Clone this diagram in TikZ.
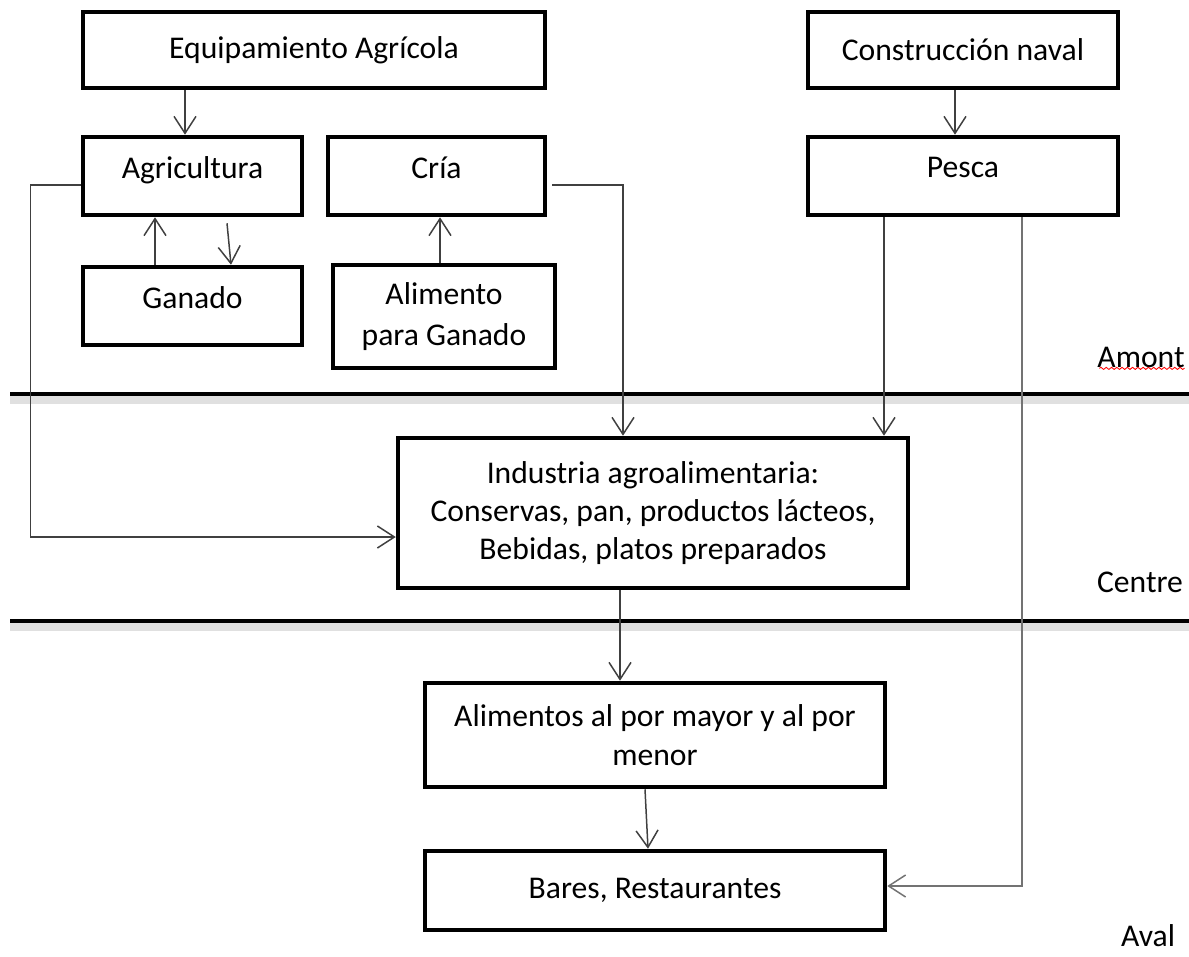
\documentclass[tikz,border=0pt]{standalone}
\usepackage{fontspec}
\setmainfont{Carlito}
\usepackage{tikz}
\usetikzlibrary{arrows.meta,positioning,calc,decorations.pathmorphing}
\tikzstyle{box}=[draw,line width=2.6pt,rectangle,align=center,inner sep=2pt,
  font=\fontsize{18}{22.5}\selectfont]
\tikzstyle{raised}=[text depth=10pt]
\tikzstyle{arr}=[draw=black!75,line width=0.85pt,-{Straight Barb[length=3.4mm,width=4.4mm,line width=0.85pt]}]
\tikzstyle{sep}=[line width=2.2pt]
\tikzstyle{tag}=[font=\fontsize{18}{20}\selectfont,inner sep=1pt]

\begin{document}
\begin{tikzpicture}[x=0.02cm,y=-0.02cm]
\useasboundingbox (0,0) rectangle (1189,956);
% upstream boxes
\node [box,minimum width=9.24cm,minimum height=1.52cm] (equip) at (314,50) {Equipamiento Agrícola};
\node [box,minimum width=6.2cm,minimum height=1.52cm] (naval) at (963,50) {Construcción naval};
\node [box,raised,minimum width=4.38cm,minimum height=1.56cm] (agri) at (192.5,176) {Agricultura};
\node [box,raised,minimum width=4.34cm,minimum height=1.56cm] (cria) at (436.5,176) {Cría};
\node [box,raised,minimum width=6.2cm,minimum height=1.56cm] (pesca) at (963,176) {Pesca};
\node [box,raised,minimum width=4.38cm,minimum height=1.56cm] (ganado) at (192.5,306) {Ganado};
\node [box,minimum width=4.44cm,minimum height=2.06cm,font=\fontsize{18}{23.2}\selectfont] (alim) at (444,316.5) {Alimento\\para Ganado};
% centre and downstream boxes
\node [box,minimum width=10.2cm,minimum height=3cm,font=\fontsize{18}{21.6}\selectfont] (ind) at (653,513)
  {Industria agroalimentaria:\\Conservas, pan, productos lácteos,\\Bebidas, platos preparados};
\node [box,minimum width=9.2cm,minimum height=2.08cm] (mayor) at (655,735) {Alimentos al por mayor y al por\\menor};
\node [box,minimum width=9.2cm,minimum height=1.58cm] (bares) at (655,890.5) {Bares, Restaurantes};

% separators
\draw [line width=5pt,black!12] (10,400) -- (1189,400);
\draw [sep] (10,394) -- (1189,394);
\draw [line width=5pt,black!12] (10,627) -- (1189,627);
\draw [sep] (10,621) -- (1189,621);
\node [tag] (amont) at (1141,357) {Amont};
\node [tag] (centre) at (1140,582) {Centre};
\node [tag] (aval) at (1148,936) {Aval};
\draw [red,line width=0.5pt,decorate,decoration={snake,amplitude=0.6pt,segment length=3pt}]
  ($(amont.south west)+(4,-1)$) -- ($(amont.south east)+(-2,-1)$);

% connector ends
\coordinate (a1) at ($(agri.north)+(-7.5,0)$);
\coordinate (a2) at ($(pesca.north)+(-8,0)$);
\coordinate (a3) at ($(ganado.north)+(-37.5,0)$);
\coordinate (a4) at ($(alim.north)+(-4,0)$);
\coordinate (a5) at ($(pesca.south)+(-79,0)$);
\coordinate (a6) at ($(ind.south)+(-33,0)$);

% connectors
\draw [arr] (a1 |- equip.south) -- (a1);
\draw [arr] (a2 |- naval.south) -- (a2);
\draw [arr] (a3) -- (a3 |- agri.south);
\draw [arr] ($(agri.south)+(34.5,6)$) -- ($(ganado.north)+(38.5,0)$);
\draw [arr] (a4) -- (a4 |- cria.south);
\draw [arr] ($(agri.west)+(0,9)$) -- ++(-50,0) |- ($(ind.west)+(0,24)$);
\draw [arr] ($(cria.east)+(5,9)$) -| ($(ind.north)+(-30,0)$);
\draw [arr] (a5) -- (a5 |- ind.north);
\draw [arr,draw=black!55] ($(pesca.south)+(59,0)$) |- ($(bares.east)+(0,-4.5)$);
\draw [arr] (a6) -- (a6 |- mayor.north);
\draw [arr] ($(mayor.south)+(-10,0)$) -- ($(bares.north)+(-7,0)$);
\end{tikzpicture}
\end{document}
